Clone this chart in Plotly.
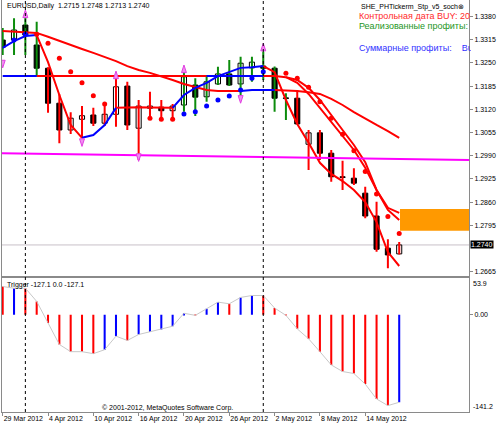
import plotly.graph_objects as go
import pandas as pd

# EURUSD daily bars, 29 Mar .. 17 May 2012
DATES = pd.bdate_range("2012-03-29", "2012-05-17")
X = list(range(len(DATES)))
DATE_TICKS = X[::4]

OPEN = [1.3314, 1.3314, 1.3356, 1.3300, 1.3235, 1.3137, 1.3062, 1.3092, 1.3104, 1.3081,
        1.3106, 1.3185, 1.3067, 1.3123, 1.3126, 1.3116, 1.3132, 1.3188, 1.3155, 1.3191,
        1.3219, 1.3191, 1.3236, 1.3241, 1.3235, 1.3152, 1.3151, 1.3022, 1.3054, 1.2997,
        1.2931, 1.2927, 1.2885, 1.2821, 1.2731, 1.2715]
HIGH = [1.3348, 1.3375, 1.3384, 1.3365, 1.3238, 1.3163, 1.3112, 1.3129, 1.3124, 1.3138,
        1.3210, 1.3197, 1.3146, 1.3169, 1.3146, 1.3135, 1.3225, 1.3207, 1.3216, 1.3239,
        1.3258, 1.3267, 1.3267, 1.3281, 1.3240, 1.3165, 1.3174, 1.3062, 1.3062, 1.3006,
        1.2976, 1.2955, 1.2903, 1.2861, 1.2756, 1.2748]
LOW = [1.3272, 1.3272, 1.3272, 1.3211, 1.3110, 1.3025, 1.3051, 1.3039, 1.3073, 1.3073,
       1.3071, 1.3062, 1.2978, 1.3095, 1.3090, 1.3090, 1.3113, 1.3101, 1.3141, 1.3188,
       1.3185, 1.3160, 1.3197, 1.3202, 1.3113, 1.3090, 1.3078, 1.2950, 1.2978, 1.2917,
       1.2894, 1.2908, 1.2815, 1.2721, 1.2675, 1.2713]
CLOSE = [1.3294, 1.3342, 1.3328, 1.3235, 1.3137, 1.3062, 1.3095, 1.3102, 1.3081, 1.3106,
         1.3183, 1.3076, 1.3129, 1.3129, 1.3116, 1.3129, 1.3211, 1.3154, 1.3197, 1.3219,
         1.3188, 1.3249, 1.3252, 1.3235, 1.3151, 1.3150, 1.3079, 1.3054, 1.2997, 1.2931,
         1.2929, 1.2913, 1.2821, 1.2728, 1.2712, 1.2740]
WICK_TREND = "gggg" + "r" * 12 + "g" * 10 + "r" * 10

# trend lines of the indicator (b = blue, r = red per point)
LINE_FAST = [1.3292, 1.3311, 1.3325, 1.3328, 1.3252, 1.3160, 1.3076, 1.3040, 1.3048, 1.3076,
             1.3124, 1.3126, 1.3126, 1.3125, 1.3124, 1.3124, 1.3160, 1.3180, 1.3194, 1.3213,
             1.3224, 1.3236, 1.3238, 1.3241, 1.3224, 1.3146, 1.3079, 1.3026, 1.2970, 1.2939,
             1.2919, 1.2894, 1.2860, 1.2804, 1.2720, 1.2681]
FAST_TREND = "bbbb" + "rrrr" + "bbb" + "rrrrr" + "b" * 8 + "r" * 12
LINE_STEP = [1.3213] * 25 + [1.3210, 1.3202, 1.3180, 1.3146, 1.3104, 1.3062, 1.3020,
                             1.2972, 1.2894, 1.2844, 1.2830]
STEP_TREND = "bbbb" + "r" * 15 + "b" * 5 + "r" * 12
LINE_SLOW = [1.3339, 1.3338, 1.3337, 1.3334, 1.3323, 1.3311, 1.3300, 1.3289, 1.3278, 1.3267,
             1.3255, 1.3241, 1.3230, 1.3222, 1.3213, 1.3202, 1.3191, 1.3182, 1.3174, 1.3171,
             1.3171, 1.3171, 1.3174, 1.3174, 1.3174, 1.3173, 1.3171, 1.3168, 1.3163, 1.3149,
             1.3132, 1.3112, 1.3093, 1.3076, 1.3059, 1.3040]
SLOW_TREND = "r" * 22 + "bbb" + "r" * 11
LINE_MID = [None] * 25 + [1.3210, 1.3194, 1.3163, 1.3124, 1.3087, 1.3048, 1.3006,
                          1.2956, 1.2894, 1.2838, 1.2810]
MID_TREND = "r" * 36

SAR_RED = [None, None, None, 1.3330, 1.3305, 1.3263, 1.3225, 1.3194, 1.3158, 1.3135,
           None, None, None, 1.3095, 1.3092, 1.3092] + [None] * 9 + \
          [1.3221, 1.3207, 1.3182, 1.3141, 1.3095, 1.3050, 1.3004, 1.2946, 1.2883, 1.2820, 1.2772]
SAR_BLUE = [None, 1.3314, 1.3330] + [None] * 13 + \
           [1.3107, 1.3113, 1.3129, 1.3146, 1.3157, 1.3174, 1.3207, 1.3225] + [None] * 12

ARROW_UP = {2: 1.3398, 10: 1.3227, 16: 1.3244, 23: 1.3305}
ARROW_DOWN = {0: 1.3236, 7: 1.3016, 12: 1.2974, 21: 1.3137}

TRENDLINE = [1.2997, 1.2978]
ZONE = (35.07, 1.2780, 1.2841)

# Trigger histogram
TRIGGER = [40.8, 38.4, 38.4, 19.2, -12.0, -43.2, -53.7, -53.7, -56.6, -50.8,
           -31.2, -37.4, -28.8, -25.0, -21.6, -16.8, 2.0, -1.0, 8.6, 18.2,
           15.8, 25.0, 27.8, 27.8, 9.6, -1.0, -20.6, -35.0, -53.7, -72.9,
           -82.5, -85.4, -100.7, -122.3, -131.9, -127.1]
TRIGGER_COLOR = "rbrrrrrrr" + "bb" + "r" + "bbbbb" + "r" + "bb" + "r" + "bb" + "r" * 12 + "b"
TRIGGER_MAX, TRIGGER_MIN = 53.9, -141.2

PRICE_TICKS = [1.3380, 1.3315, 1.3250, 1.3185, 1.3120, 1.3055, 1.2990, 1.2925, 1.2860, 1.2795, 1.2665]
PRICE_RANGE = [1.26544, 1.34261]
X_RANGE = [-0.062, 41.16]

RED = "#FF0000"
BLUE = "#0000FF"
GREEN = "#0C8C0C"
FONT = "Liberation Sans, Arial, sans-serif"
COLORS = {"r": RED, "b": BLUE, "g": GREEN}


def colored_runs(vals, trend, c):
    xs, ys, inside = [], [], False
    for i in range(1, len(vals)):
        if trend[i] == c and vals[i] is not None and vals[i - 1] is not None:
            if not inside:
                if xs:
                    xs.append(None)
                    ys.append(None)
                xs.append(i - 1)
                ys.append(vals[i - 1])
            xs.append(i)
            ys.append(vals[i])
            inside = True
        else:
            inside = False
    return xs, ys


fig = go.Figure()

# candle bodies
fig.add_trace(go.Bar(
    x=X, y=[abs(c - o) for o, c in zip(OPEN, CLOSE)], base=[min(o, c) for o, c in zip(OPEN, CLOSE)],
    width=0.45, marker=dict(color=["white" if c >= o else "black" for o, c in zip(OPEN, CLOSE)],
                            line=dict(color="black", width=1)),
    xaxis="x", yaxis="y",
))

# wicks
for key in "gr":
    wx, wy = [], []
    for i in X:
        if WICK_TREND[i] == key:
            wx += [i, i, None]
            wy += [LOW[i], HIGH[i], None]
    fig.add_trace(go.Scatter(x=wx, y=wy, mode="lines", line=dict(color=COLORS[key], width=2),
                             xaxis="x", yaxis="y"))

# indicator lines
for vals, trend in [(LINE_SLOW, SLOW_TREND), (LINE_STEP, STEP_TREND), (LINE_MID, MID_TREND), (LINE_FAST, FAST_TREND)]:
    for key in "rb":
        lx, ly = colored_runs(vals, trend, key)
        if lx:
            fig.add_trace(go.Scatter(x=lx, y=ly, mode="lines", line=dict(color=COLORS[key], width=2),
                                     xaxis="x", yaxis="y"))

# trend line
fig.add_trace(go.Scatter(x=X_RANGE, y=TRENDLINE, mode="lines", line=dict(color="#FF00FF", width=2),
                         xaxis="x", yaxis="y"))

# SAR dots
fig.add_trace(go.Scatter(x=X, y=SAR_RED, mode="markers", marker=dict(color=RED, size=5),
                         xaxis="x", yaxis="y"))
fig.add_trace(go.Scatter(x=X, y=SAR_BLUE, mode="markers", marker=dict(color=BLUE, size=5),
                         xaxis="x", yaxis="y"))

# signal arrows
fig.add_trace(go.Scatter(x=list(ARROW_UP), y=list(ARROW_UP.values()), mode="markers",
                         marker=dict(symbol="arrow", size=8, color="#F38CF3", line=dict(color="#E040E0", width=1)),
                         xaxis="x", yaxis="y"))
fig.add_trace(go.Scatter(x=list(ARROW_DOWN), y=list(ARROW_DOWN.values()), mode="markers",
                         marker=dict(symbol="arrow", angle=180, size=8, color="#F38CF3",
                                     line=dict(color="#E040E0", width=1)),
                         xaxis="x", yaxis="y"))

# Trigger subwindow
fig.add_trace(go.Bar(x=X, y=TRIGGER, width=0.18, marker=dict(color=[COLORS[c] for c in TRIGGER_COLOR], line=dict(width=0)),
                     xaxis="x2", yaxis="y2"))
fig.add_trace(go.Scatter(x=X, y=TRIGGER, mode="lines", line=dict(color="#C8C8C8", width=1),
                         xaxis="x2", yaxis="y2"))

# month separators
separators = [i for i in X[1:] if DATES[i].month != DATES[i - 1].month]
shapes = [dict(type="line", xref="x", yref="paper", x0=i, x1=i, y0=0, y1=1,
               line=dict(color="black", width=1, dash="dot")) for i in separators]
shapes.append(dict(type="line", xref="paper", yref="y", x0=0, x1=1, y0=CLOSE[-1], y1=CLOSE[-1],
                   line=dict(color="#C8C0C8", width=1), layer="below"))
shapes.append(dict(type="rect", xref="x", yref="y", x0=ZONE[0], x1=X_RANGE[1], y0=ZONE[1], y1=ZONE[2],
                   fillcolor="#FF9900", line=dict(width=0), layer="below"))

H = 412.0


def py(p):
    return (H - p) / H


annotations = [
    dict(text="EURUSD,Daily\u00a0 %.4f %.4f %.4f %.4f" % (OPEN[-1], HIGH[-1], LOW[-1], CLOSE[-1]),
         x=3 / 467, y=py(6), xanchor="left"),
    dict(text="SHE_PHTickerm_Stp_v5_soch\u2297", x=464 / 467, y=py(7), xanchor="right"),
    dict(text="Контрольная дата BUY: 20", x=355 / 467, y=py(15.5), xanchor="left", width=112, align="left",
         font=dict(size=9, color="#FF2A2A")),
    dict(text="Реализованные профиты:", x=355 / 467, y=py(25.5), xanchor="left",
         font=dict(size=9, color="#1E961E")),
    dict(text="Суммарные профиты:\u00a0\u00a0\u00a0 Buy:", x=355 / 467, y=py(47.5), xanchor="left", width=112,
         align="left", font=dict(size=9, color="#3333FF")),
    dict(text="Trigger %.1f 0.0 %.1f" % (TRIGGER[-1], TRIGGER[-1]), x=3 / 467, y=py(284.5), xanchor="left"),
    dict(text="© 2001-2012, MetaQuotes Software Corp.", x=98 / 467, y=py(408), xanchor="left"),
    dict(text="%.1f" % TRIGGER_MAX, xref="paper", yref="y2", x=1, y=TRIGGER_MAX, xanchor="left",
         yanchor="top", xshift=2),
    dict(text="%.1f" % TRIGGER_MIN, xref="paper", yref="y2", x=1, y=TRIGGER_MIN, xanchor="left",
         yanchor="bottom", xshift=2),
    dict(text="%.4f" % CLOSE[-1], xref="paper", yref="y", x=1, y=CLOSE[-1], xanchor="left", xshift=1,
         bgcolor="black", borderpad=0, font=dict(color="white")),
]
for a in annotations:
    a.setdefault("xref", "paper")
    a.setdefault("yref", "paper")
    a.setdefault("yanchor", "middle")
    a.setdefault("showarrow", False)
    a.setdefault("font", dict())
    a["font"].setdefault("size", 7)
    a["font"].setdefault("family", FONT)
    a["font"].setdefault("color", "black")

AXIS = dict(showgrid=False, zeroline=False, showline=True, mirror=True, linecolor="#8A8A8A", linewidth=1,
            tickcolor="#8A8A8A", tickfont=dict(size=7, color="black", family=FONT),
            automargin=False, tickangle=0)

fig.update_layout(
    width=497, height=426,
    margin=dict(l=2, r=28, t=0, b=14),
    paper_bgcolor="white", plot_bgcolor="white",
    showlegend=False, hovermode=False, barmode="overlay",
    font=dict(family=FONT, size=7, color="black"),
    xaxis=dict(AXIS, domain=[0, 1], anchor="y", range=X_RANGE, showticklabels=False, ticks=""),
    yaxis=dict(AXIS, domain=[(H - 275.5) / H, 1], anchor="x", range=PRICE_RANGE, side="right",
               tickvals=PRICE_TICKS, ticktext=["%.4f" % v for v in PRICE_TICKS], ticks="outside", ticklen=3),
    xaxis2=dict(AXIS, domain=[0, 1], anchor="y2", matches="x", range=X_RANGE,
                tickvals=DATE_TICKS, ticktext=[f"{DATES[i].day} {DATES[i]:%b %Y}" for i in DATE_TICKS],
                ticks="outside", ticklen=3, ticklabelposition="outside right"),
    yaxis2=dict(AXIS, domain=[0, (H - 277.5) / H], anchor="x2", range=[TRIGGER_MIN, TRIGGER_MAX],
                side="right", tickvals=[0], ticktext=["0.00"], ticks="outside", ticklen=3),
    shapes=shapes,
    annotations=annotations,
)

fig.write_html("out.html", config={"displayModeBar": False},
               post_script="document.body.style.margin='0';document.body.style.overflow='hidden';")
